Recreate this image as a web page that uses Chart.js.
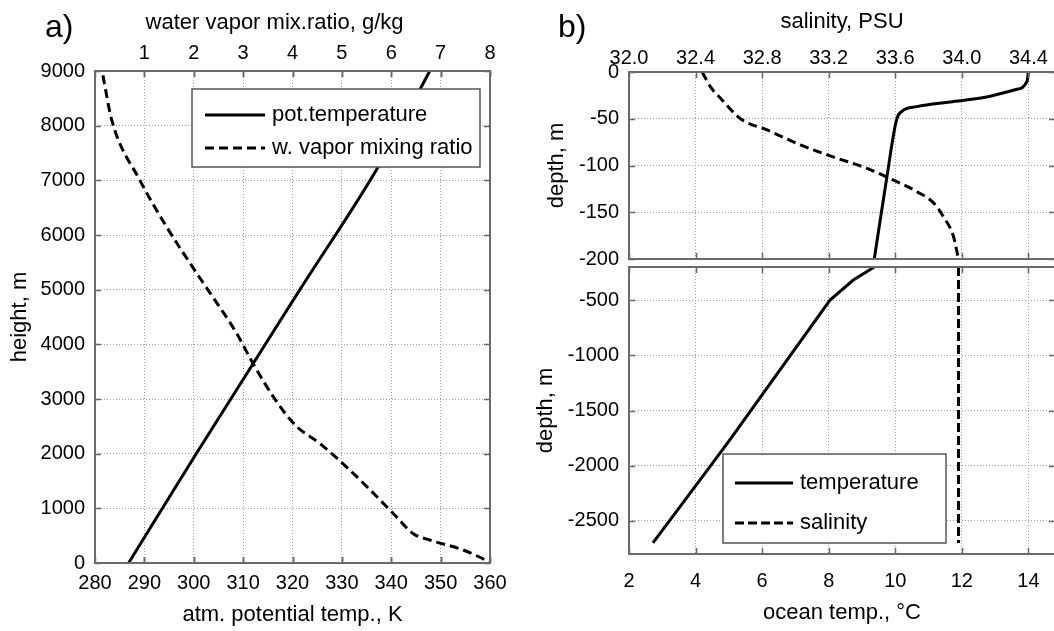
<!DOCTYPE html>
<html>
<head>
<meta charset="utf-8">
<title>Atmosphere and ocean profiles</title>
<script src="https://cdn.jsdelivr.net/npm/chart.js@4.4.1/dist/chart.umd.min.js"></script>
<style>
  html, body { margin: 0; padding: 0; background: #fff; overflow: hidden; }
  #wrap { position: relative; width: 1054px; height: 631px; overflow: hidden; }
  canvas { position: absolute; }
</style>
</head>
<body>
<div id="wrap">
  <canvas id="atm" width="530" height="631" style="left:0;top:0"></canvas>
  <canvas id="oceanTop" width="530" height="283" style="left:530px;top:0"></canvas>
  <canvas id="oceanDeep" width="530" height="388" style="left:530px;top:243px"></canvas>
</div>
<script>
// a) atmosphere: potential temperature (K) and water vapour mixing ratio (g/kg) vs height (m)
const potTempHeight = [0, 2000, 5000, 7300, 9000];
const potTempK      = [286.8, 300.5, 321.5, 337.7, 347.8];
const vaporHeight = [8920, 8100, 7000, 6150, 5300, 4940, 4200, 3650, 2950, 2500, 2190, 1760, 1340, 850, 540, 420, 240, 20];
const vaporMix    = [0.16, 0.34, 0.91, 1.45, 2.06, 2.33, 2.87, 3.2, 3.68, 4.08, 4.55, 5.09, 5.57, 6.1, 6.44, 6.78, 7.45, 8.0];

// b) ocean, upper 200 m
const upperTempDepth = [0, -10, -19, -27, -32, -37, -42, -51, -112, -200];
const upperTemp      = [14.0, 13.96, 13.6, 12.7, 11.65, 10.65, 10.2, 10.04, 9.75, 9.37];
const upperSalDepth = [0, -16, -28, -50, -62, -78, -91, -103, -114, -128, -140, -155, -176, -200];
const upperSal      = [32.44, 32.49, 32.55, 32.67, 32.83, 33.03, 33.23, 33.43, 33.57, 33.73, 33.83, 33.89, 33.95, 33.98];

// b) ocean, below 200 m
const deepTempDepth = [-200, -318, -499, -1767, -2130, -2700];
const deepTemp      = [9.37, 8.74, 8.04, 5.03, 4.13, 2.72];
const deepSalDepth = [-200, -2700];
const deepSal      = [33.98, 33.98];

// tick values
const heightTicks    = [0, 1000, 2000, 3000, 4000, 5000, 6000, 7000, 8000, 9000];
const thetaTicks     = [280, 290, 300, 310, 320, 330, 340, 350, 360];
const mixTicks       = [1, 2, 3, 4, 5, 6, 7, 8];
const salTicks       = [32.0, 32.4, 32.8, 33.2, 33.6, 34.0, 34.4];
const oceanTempTicks = [2, 4, 6, 8, 10, 12, 14];
const upperDepthTicks = [0, -50, -100, -150, -200];
const deepDepthTicks  = [-500, -1000, -1500, -2000, -2500];

const FONT = '"Liberation Sans", Arial, Helvetica, sans-serif';
Chart.defaults.font.family = FONT;
Chart.defaults.font.size = 20;
Chart.defaults.color = '#000';

const gridStyle = { color: '#9a9a9a', lineWidth: 1, drawTicks: false };
const dotted = { display: false, dash: [1, 2] };
const titleFont = { size: 22 };

function fixed(list) {
  return scale => { scale.ticks = list.map(v => ({ value: v })); };
}
function pairs(xs, ys) {
  return xs.map((x, i) => ({ x: x, y: ys[i] }));
}
// smooth = monotone spline along x (only for series strictly monotone in x)
function line(label, xs, ys, xAxisID, dash, smooth) {
  const ds = {
    label: label, data: pairs(xs, ys), xAxisID: xAxisID, yAxisID: 'y',
    showLine: true, borderColor: '#000', backgroundColor: '#000',
    borderWidth: 3, borderDash: dash || [], pointRadius: 0, tension: 0
  };
  if (smooth) ds.cubicInterpolationMode = 'monotone';
  return ds;
}

// box frame, inward tick marks, boxed legend, panel letter and free caption
const decor = {
  id: 'decor',
  afterDatasetsDraw(chart, args, opts) {
    const ctx = chart.ctx;
    const a = chart.chartArea;
    ctx.save();
    ctx.strokeStyle = '#666';
    ctx.lineWidth = 1.5;
    Object.values(chart.scales).forEach(s => {
      if (!s.options.display) return;
      s.ticks.forEach(t => {
        const p = Math.round(s.getPixelForValue(t.value)) + 0.5;
        ctx.beginPath();
        if (s.isHorizontal()) {
          ctx.moveTo(p, a.top); ctx.lineTo(p, a.top + 6);
          ctx.moveTo(p, a.bottom); ctx.lineTo(p, a.bottom - 6);
        } else {
          ctx.moveTo(a.left, p); ctx.lineTo(a.left + 6, p);
          ctx.moveTo(a.right, p); ctx.lineTo(a.right - 6, p);
        }
        ctx.stroke();
      });
    });
    ctx.lineWidth = 2;
    ctx.strokeStyle = '#6a6a6a';
    ctx.strokeRect(a.left, a.top, a.right - a.left, a.bottom - a.top);

    const lg = opts.legend;
    if (lg) {
      const x0 = a.left + lg.left, y0 = a.top + lg.top;
      ctx.fillStyle = '#fff';
      ctx.fillRect(x0, y0, lg.width, lg.height);
      ctx.lineWidth = 1.5;
      ctx.strokeStyle = '#555';
      ctx.strokeRect(x0, y0, lg.width, lg.height);
      ctx.font = '22px ' + FONT;
      ctx.textBaseline = 'middle';
      ctx.textAlign = 'left';
      chart.data.datasets.forEach((ds, i) => {
        const y = y0 + lg.rows[i];
        ctx.beginPath();
        ctx.setLineDash(ds.borderDash);
        ctx.lineWidth = ds.borderWidth;
        ctx.strokeStyle = '#000';
        ctx.moveTo(x0 + lg.line[0], y);
        ctx.lineTo(x0 + lg.line[1], y);
        ctx.stroke();
        ctx.setLineDash([]);
        ctx.fillStyle = '#000';
        ctx.fillText(ds.label, x0 + lg.text, y);
      });
    }
    ctx.fillStyle = '#000';
    ctx.textBaseline = 'middle';
    if (opts.caption) {
      ctx.font = '22px ' + FONT;
      ctx.textAlign = 'center';
      ctx.fillText(opts.caption.text, (a.left + a.right) / 2 + opts.caption.dx, opts.caption.y);
    }
    if (opts.letter) {
      ctx.font = '32px ' + FONT;
      ctx.textAlign = 'left';
      ctx.fillText(opts.letter, a.left + opts.letterDx, opts.letterY);
    }
    ctx.restore();
  }
};

const base = {
  responsive: false,
  animation: false,
  events: []
};

// a)
new Chart(document.getElementById('atm'), {
  type: 'scatter',
  data: {
    datasets: [
      line('pot.temperature', potTempK, potTempHeight, 'x', null, true),
      line('w. vapor mixing ratio', vaporMix, vaporHeight, 'x2', [9, 5], true)
    ]
  },
  options: Object.assign({}, base, {
    layout: { padding: { right: 40 } },
    plugins: {
      legend: { display: false },
      tooltip: { enabled: false },
      decor: {
        letter: 'a)', letterDx: -50, letterY: 28,
        caption: { text: 'water vapor mix.ratio, g/kg', dx: -18, y: 23 },
        legend: { left: 97, top: 18, width: 288, height: 78, rows: [26, 59], line: [13, 73], text: 80 }
      }
    },
    scales: {
      x: {
        type: 'linear', position: 'bottom', min: 280, max: 360,
        afterBuildTicks: fixed(thetaTicks), afterFit: s => { s.height = 68; },
        grid: gridStyle, border: dotted,
        ticks: { padding: 8, autoSkip: false, maxRotation: 0, callback: v => String(v) },
        title: { display: true, text: 'atm. potential temp., K', font: titleFont, padding: { top: 0, bottom: 3 } }
      },
      x2: {
        type: 'linear', position: 'top', min: 0, max: 8,
        afterBuildTicks: fixed(mixTicks), afterFit: s => { s.height = 71; },
        grid: { drawOnChartArea: false, drawTicks: false }, border: { display: false },
        ticks: { padding: 6, autoSkip: false, maxRotation: 0, callback: v => String(v) }
      },
      y: {
        type: 'linear', position: 'left', min: 0, max: 9000,
        afterBuildTicks: fixed(heightTicks), afterFit: s => { s.width = 95; },
        grid: gridStyle, border: dotted,
        ticks: { padding: 10, callback: v => String(v) },
        title: { display: true, text: 'height, m', font: titleFont, padding: { top: 7, bottom: 0 } }
      }
    }
  }),
  plugins: [decor]
});

// b) upper 200 m
new Chart(document.getElementById('oceanTop'), {
  type: 'scatter',
  data: {
    datasets: [
      line('temperature', upperTemp, upperTempDepth, 'xt', null, true),
      line('salinity', upperSal, upperSalDepth, 'xs', [9, 5], true)
    ]
  },
  options: Object.assign({}, base, {
    layout: { padding: { right: 5, bottom: 24 } },
    plugins: {
      legend: { display: false },
      tooltip: { enabled: false },
      decor: { letter: 'b)', letterDx: -71, letterY: 28 }
    },
    scales: {
      xs: {
        type: 'linear', position: 'top', min: 32, max: 34.56,
        afterBuildTicks: fixed(salTicks), afterFit: s => { s.height = 72; },
        grid: gridStyle, border: dotted,
        ticks: { padding: 2, autoSkip: false, maxRotation: 0, callback: v => v.toFixed(1) },
        title: { display: true, text: 'salinity, PSU', font: titleFont, padding: { top: 9, bottom: 0 } }
      },
      xt: { type: 'linear', position: 'bottom', min: 2, max: 14.8, display: false },
      y: {
        type: 'linear', position: 'left', min: -200, max: 0,
        afterBuildTicks: fixed(upperDepthTicks), afterFit: s => { s.width = 99; },
        grid: gridStyle, border: dotted,
        ticks: { padding: 10, callback: v => String(v) },
        title: { display: true, text: 'depth, m', font: titleFont, padding: { top: 14, bottom: 0 } }
      }
    }
  }),
  plugins: [decor]
});

// b) below 200 m
new Chart(document.getElementById('oceanDeep'), {
  type: 'scatter',
  data: {
    datasets: [
      line('temperature', deepTemp, deepTempDepth, 'xt', null, false),
      line('salinity', deepSal, deepSalDepth, 'xs', [9, 4], false)
    ]
  },
  options: Object.assign({}, base, {
    layout: { padding: { right: 5, top: 24 } },
    plugins: {
      legend: { display: false },
      tooltip: { enabled: false },
      decor: {
        legend: { left: 94, top: 187, width: 223, height: 89, rows: [29, 69], line: [12, 70], text: 77 }
      }
    },
    scales: {
      xt: {
        type: 'linear', position: 'bottom', min: 2, max: 14.8,
        afterBuildTicks: fixed(oceanTempTicks), afterFit: s => { s.height = 77; },
        grid: gridStyle, border: dotted,
        ticks: { padding: 15, autoSkip: false, maxRotation: 0, callback: v => String(v) },
        title: { display: true, text: 'ocean temp., °C', font: titleFont, padding: { top: 0, bottom: 5 } }
      },
      xs: { type: 'linear', position: 'top', min: 32, max: 34.56, display: false },
      y: {
        type: 'linear', position: 'left', min: -2800, max: -200,
        afterBuildTicks: fixed(deepDepthTicks), afterFit: s => { s.width = 99; },
        grid: gridStyle, border: dotted,
        ticks: { padding: 10, callback: v => String(v) },
        title: { display: true, text: 'depth, m', font: titleFont, padding: { top: 3, bottom: 0 } }
      }
    }
  }),
  plugins: [decor]
});
</script>
</body>
</html>
